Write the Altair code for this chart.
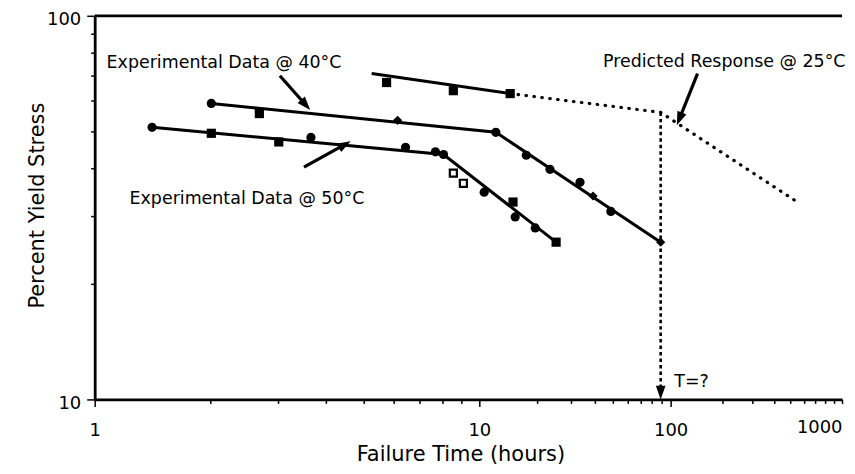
import altair as alt
import pandas as pd

# ---------------- data ----------------
# Experimental data @ 40 C
t40 = [2.01, 2.68, 6.13, 12.2, 17.6, 23.4, 33.6, 39.3, 48.7, 88.7]
s40 = [59.1, 55.6, 53.4, 49.7, 43.3, 39.8, 36.8, 33.9, 30.9, 25.7]
m40 = ["circle", "square", "diamond", "circle", "circle", "circle",
       "circle", "diamond", "circle", "diamond"]
# Experimental data @ 50 C
t50 = [1.41, 2.01, 3.01, 3.65, 6.43, 7.69, 8.07, 10.6, 15.0, 15.4, 19.6, 25.2]
s50 = [51.2, 49.4, 46.9, 48.2, 45.4, 44.2, 43.5, 34.7, 32.7, 29.9, 28.0, 25.7]
m50 = ["circle", "square", "square", "circle", "circle", "circle",
       "circle", "circle", "square", "circle", "circle", "square"]
t50_open = [8.56, 9.09]
s50_open = [38.9, 36.6]
# upper (lower temperature) data set
t_up = [5.74, 8.56, 14.5]
s_up = [67.0, 63.8, 62.7]

# fitted lines
fit40_t = [2.01, 12.2, 88.7]
fit40_s = [59.1, 49.7, 25.7]
fit50_t = [1.41, 8.07, 25.2]
fit50_s = [51.2, 43.5, 25.7]
fitup_t = [5.25, 14.5]
fitup_s = [70.7, 62.7]
# predicted response @ 25 C (dotted)
pred_t = [14.5, 88.7, 526]
pred_s = [62.7, 56.0, 33.1]
# T=? vertical dashed arrow
T_t = [88.7, 88.7]
T_s = [56.0, 10.49]

# annotation arrows
arrow_id = ["a40", "a40", "a50", "a50", "a25", "a25"]
arrow_t = [3.03, 3.52, 3.50, 4.44, 143.5, 113.1]
arrow_s = [69.8, 58.9, 40.3, 46.0, 70.7, 54.2]
head_t = [3.52, 4.44, 113.1, 88.7]
head_s = [58.9, 46.0, 54.2, 10.49]
head_angle = [139, 61, 202, 180]

# annotation texts
label_text = ["Experimental Data @ 40°C", "Experimental Data @ 50°C",
              "Predicted Response @ 25°C", "T=?"]
label_t = [1.074, 1.232, 44.3, 105]
label_s = [75.5, 33.3, 75.9, 11.1]

# axis ticks
x_ticks = [1, 2, 3, 4, 5, 6, 7, 8, 9, 10, 20, 30, 40, 50, 60, 70, 80, 90,
           100, 200, 300, 400, 500, 600, 700, 800, 900, 1000]
y_ticks = [10, 20, 30, 40, 50, 60, 70, 80, 90, 100]

# ---------------- chart ----------------
FONT = "DejaVu Sans"
W, H = 750, 385
ARROWHEAD = "M0,-1L0.6,0.7L-0.6,0.7Z"

xscale = alt.Scale(type="log", domain=[1, 10, 100, 1000], range=[0, 386, 578, W], nice=False)
yscale = alt.Scale(type="log", domain=[10, 100], nice=False)

xaxis = alt.Axis(
    values=x_ticks,
    labelExpr="(datum.value==1||datum.value==10||datum.value==100||datum.value==1000) ? format(datum.value,'d') : ''",
    tickSize={"condition": {"test": "datum.value==1||datum.value==10||datum.value==100", "value": 7}, "value": 4},
    labelAlign={"condition": {"test": "datum.value>=1000", "value": "right"}, "value": "center"},
    labelPadding=15, grid=False, labelFlush=False,
    titleX=367, titleY=55, titleAlign="center", titleBaseline="middle",
)
yaxis = alt.Axis(
    values=y_ticks,
    labelExpr="(datum.value==10||datum.value==100) ? format(datum.value,'d') : ''",
    tickSize={"condition": {"test": "datum.value==10||datum.value==100", "value": 8}, "value": 4},
    labelPadding=6, labelOffset=4, grid=False,
    titleX=-57, titleY=190, titleAngle=270, titleAlign="center", titleBaseline="middle",
)

X = alt.X("t:Q", scale=xscale, axis=xaxis, title="Failure Time (hours)")
Y = alt.Y("s:Q", scale=yscale, axis=yaxis, title="Percent  Yield  Stress")


def df(t, s, **extra):
    d = pd.DataFrame({"t": t, "s": s})
    for k, v in extra.items():
        d[k] = v
    return d


fits = pd.concat([
    df(fit40_t, fit40_s, g="40"),
    df(fit50_t, fit50_s, g="50"),
    df(fitup_t, fitup_s, g="up"),
])

fit_layer = alt.Chart(fits).mark_line(color="black", strokeWidth=3).encode(
    x=X, y=Y, detail="g:N")

top_border = alt.Chart(df([1, 1000], [100, 100])).mark_line(
    color="black", strokeWidth=2.8).encode(x=X, y=Y)

pred_layer = alt.Chart(df(pred_t, pred_s)).mark_line(
    color="black", strokeWidth=3.2, strokeDash=[0.5, 7.5], strokeCap="round").encode(x=X, y=Y)

T_layer = alt.Chart(df(T_t, T_s)).mark_line(
    color="black", strokeWidth=2.6, strokeDash=[3.5, 3]).encode(x=X, y=Y)

pts = pd.concat([df(t40, s40, m=m40), df(t50, s50, m=m50),
                 df(t_up, s_up, m=["square"] * len(t_up))])
pts_layer = alt.Chart(pts).mark_point(filled=True, color="black", size=85, opacity=1).encode(
    x=X, y=Y, shape=alt.Shape("m:N", scale=None))

open_layer = alt.Chart(df(t50_open, s50_open)).mark_point(
    shape="square", filled=False, color="black", size=50, strokeWidth=2.2, opacity=1).encode(x=X, y=Y)

arrows = alt.Chart(df(arrow_t, arrow_s, a=arrow_id)).mark_line(
    color="black", strokeWidth=3.2).encode(x=X, y=Y, detail="a:N")

heads = alt.Chart(df(head_t, head_s, ang=head_angle)).mark_point(
    shape=ARROWHEAD, filled=True, color="black", size=260, opacity=1).encode(
    x=X, y=Y, angle=alt.Angle("ang:Q", scale=None))

texts = alt.Chart(df(label_t, label_s, txt=label_text)).mark_text(
    align="left", baseline="middle", font=FONT, fontSize=17.5, color="black").encode(
    x=X, y=Y, text="txt:N")

chart = alt.layer(
    top_border, fit_layer, pred_layer, T_layer, pts_layer, open_layer, arrows, heads, texts
).properties(
    width=W, height=H,
    autosize=alt.AutoSizeParams(type="none"),
    padding={"left": 87, "top": 7, "right": 5, "bottom": 70},
    background="white",
).configure_view(stroke=None).configure_axis(
    labelFont=FONT, titleFont=FONT, labelFontSize=18, titleFontSize=21,
    titleFontWeight="normal", labelColor="black", titleColor="black",
    domainColor="black", tickColor="black", domainWidth=2.8, tickWidth=1.5,
)

chart.save("out.html", embed_options={"renderer": "svg", "actions": False})
